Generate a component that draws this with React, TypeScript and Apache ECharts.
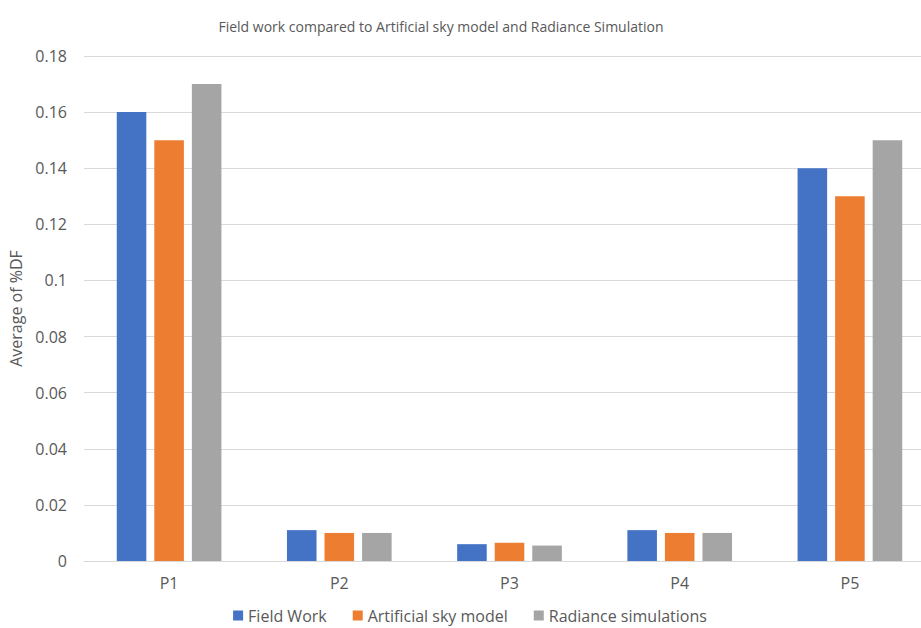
import React, { useEffect, useRef } from "react";
import * as echarts from "echarts";

const categories = ["P1", "P2", "P3", "P4", "P5"];
const fieldWork = [0.16, 0.011, 0.006, 0.011, 0.14];
const artificialSky = [0.15, 0.01, 0.0065, 0.01, 0.13];
const radianceSim = [0.17, 0.01, 0.0055, 0.01, 0.15];
const seriesNames = ["Field Work", "Artificial sky model", "Radiance simulations"];
const colors = ["#4472C4", "#ED7D31", "#A5A5A5"];

const FONT = "'Open Sans', 'Noto Sans', sans-serif";

export default function App() {
  const ref = useRef<HTMLDivElement>(null);
  useEffect(() => {
    if (!ref.current) return;
    const chart = echarts.init(ref.current, undefined, { renderer: "svg" });
    const data = [fieldWork, artificialSky, radianceSim];
    chart.setOption({
      animation: false,
      backgroundColor: "#ffffff",
      title: {
        text: "Field work compared to Artificial sky model and Radiance Simulation",
        left: 436,
        textAlign: "center",
        top: 14,
        textStyle: { fontFamily: FONT, fontSize: 14, fontWeight: "normal", color: "#595959" },
      },
      legend: {
        data: seriesNames,
        top: 605,
        left: "center",
        icon: "rect",
        itemWidth: 10,
        itemHeight: 10,
        itemGap: 26,
        padding: [2, 5, 2, 5],
        itemStyle: { borderWidth: 0 },
        textStyle: { fontFamily: FONT, fontSize: 16, lineHeight: 17, color: "#595959" },
      },
      grid: { left: 84, right: 5, top: 56, bottom: 67, containLabel: false },
      xAxis: {
        type: "category",
        data: categories,
        axisLine: { lineStyle: { color: "#D9D9D9" } },
        axisTick: { show: false },
        axisLabel: { fontFamily: FONT, fontSize: 16, color: "#595959", margin: 14 },
      },
      yAxis: {
        type: "value",
        min: 0,
        max: 0.18,
        interval: 0.02,
        name: "Average of %DF",
        nameLocation: "middle",
        nameGap: 58,
        nameTextStyle: { fontFamily: FONT, fontSize: 16, color: "#595959" },
        axisLine: { show: false },
        axisTick: { show: false },
        splitLine: { lineStyle: { color: "#D9D9D9" } },
        axisLabel: {
          fontFamily: FONT,
          fontSize: 16,
          color: "#595959",
          margin: 17,
          formatter: (v: number) => String(parseFloat(v.toFixed(4))),
        },
      },
      series: seriesNames.map((name, i) => ({
        name,
        type: "bar",
        data: data[i],
        barGap: "27%",
        barCategoryGap: "38.5%",
        itemStyle: { color: colors[i] },
      })),
    });
    return () => chart.dispose();
  }, []);
  return (
    <div style={{ width: 921, height: 628, position: "absolute", left: 0, top: 0, overflow: "hidden", background: "#fff" }}>
      <div ref={ref} style={{ width: 940, height: 628 }} />
    </div>
  );
}
